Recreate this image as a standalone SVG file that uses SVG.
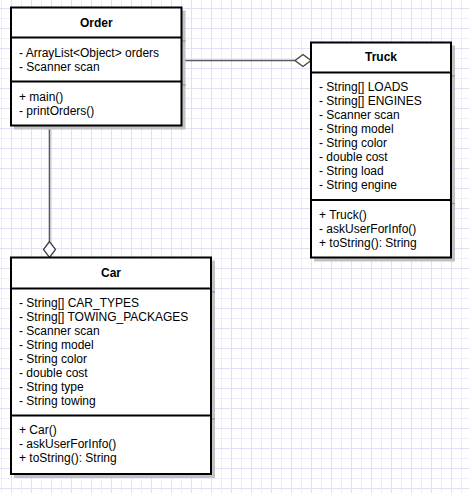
<svg xmlns="http://www.w3.org/2000/svg" width="469" height="493" viewBox="0 0 469 493">
<defs>
<pattern id="grid" patternUnits="userSpaceOnUse" x="11" y="8" width="20" height="20">
<rect x="0" y="0" width="20" height="20" fill="#ffffff"/>
<rect x="10" y="0" width="1" height="20" fill="#ededfa"/>
<rect x="0" y="10" width="20" height="1" fill="#ededfa"/>
<rect x="0" y="0" width="1" height="20" fill="#dfdff7"/>
<rect x="0" y="0" width="20" height="1" fill="#dfdff7"/>
</pattern>
<style>
.shadow{fill:#c2c2c2;stroke:none}
.shsep{stroke:#9a9a9a;stroke-width:1.5}
.box{fill:#ffffff;stroke:#000000;stroke-width:2}
.sep{stroke:#000000;stroke-width:2}
.t{font-family:"Liberation Sans",Arial,Helvetica,sans-serif;font-size:12px;fill:#000000}
.title{font-weight:bold;text-anchor:middle}
.edge{stroke:#595959;stroke-width:1.6;fill:none}
.dia{stroke:#404040;stroke-width:1.3;fill:#ffffff}
</style>
</defs>
<rect x="0" y="0" width="469" height="493" fill="url(#grid)"/>

<g id="connectors">
<line class="edge" x1="182" y1="60.5" x2="295" y2="60.5"/>
<polygon class="dia" points="295,60.5 303,54.5 311,60.5 303,66.5"/>
<line class="edge" x1="49.5" y1="126.5" x2="49.5" y2="241.5"/>
<polygon class="dia" points="49.5,241.5 43.5,249.5 49.5,257.5 55.5,249.5"/>
</g>

<g id="order">
<rect class="shadow" x="14" y="10.5" width="171.5" height="119"/>
<line class="shsep" x1="14" y1="41" x2="185.5" y2="41"/>
<line class="shsep" x1="14" y1="85" x2="185.5" y2="85"/>
<rect class="box" x="11" y="7.5" width="170.5" height="118"/>
<line class="sep" x1="11" y1="37.5" x2="181.5" y2="37.5"/>
<line class="sep" x1="11" y1="81.5" x2="181.5" y2="81.5"/>
<text class="t title" x="96.25" y="27">Order</text>
<text class="t" x="19" y="56.6">- ArrayList&lt;Object&gt; orders</text>
<text class="t" x="19" y="70.6">- Scanner scan</text>
<text class="t" x="19" y="101">+ main()</text>
<text class="t" x="19" y="115">- printOrders()</text>
</g>

<g id="truck">
<rect class="shadow" x="314" y="45.5" width="141" height="216"/>
<line class="shsep" x1="314" y1="76" x2="455" y2="76"/>
<line class="shsep" x1="314" y1="203.5" x2="455" y2="203.5"/>
<rect class="box" x="311" y="42.5" width="140" height="215"/>
<line class="sep" x1="311" y1="72.5" x2="451" y2="72.5"/>
<line class="sep" x1="311" y1="200" x2="451" y2="200"/>
<text class="t title" x="381" y="61">Truck</text>
<text class="t" x="319" y="91">- String[] LOADS</text>
<text class="t" x="319" y="105">- String[] ENGINES</text>
<text class="t" x="319" y="119">- Scanner scan</text>
<text class="t" x="319" y="133">- String model</text>
<text class="t" x="319" y="147">- String color</text>
<text class="t" x="319" y="161">- double cost</text>
<text class="t" x="319" y="175">- String load</text>
<text class="t" x="319" y="189">- String engine</text>
<text class="t" x="319" y="218.6">+ Truck()</text>
<text class="t" x="319" y="232.6">- askUserForInfo()</text>
<text class="t" x="319" y="246.6">+ toString(): String</text>
</g>

<g id="car">
<rect class="shadow" x="14" y="260.5" width="201" height="217.5"/>
<line class="shsep" x1="14" y1="292" x2="215" y2="292"/>
<line class="shsep" x1="14" y1="419" x2="215" y2="419"/>
<rect class="box" x="11" y="257.5" width="200" height="216.5"/>
<line class="sep" x1="11" y1="288.5" x2="211" y2="288.5"/>
<line class="sep" x1="11" y1="415.5" x2="211" y2="415.5"/>
<text class="t title" x="111" y="277">Car</text>
<text class="t" x="19" y="306.6">- String[] CAR_TYPES</text>
<text class="t" x="19" y="320.6">- String[] TOWING_PACKAGES</text>
<text class="t" x="19" y="334.6">- Scanner scan</text>
<text class="t" x="19" y="348.6">- String model</text>
<text class="t" x="19" y="362.6">- String color</text>
<text class="t" x="19" y="376.6">- double cost</text>
<text class="t" x="19" y="390.6">- String type</text>
<text class="t" x="19" y="404.6">- String towing</text>
<text class="t" x="19" y="434.3">+ Car()</text>
<text class="t" x="19" y="448.3">- askUserForInfo()</text>
<text class="t" x="19" y="462.3">+ toString(): String</text>
</g>
</svg>
